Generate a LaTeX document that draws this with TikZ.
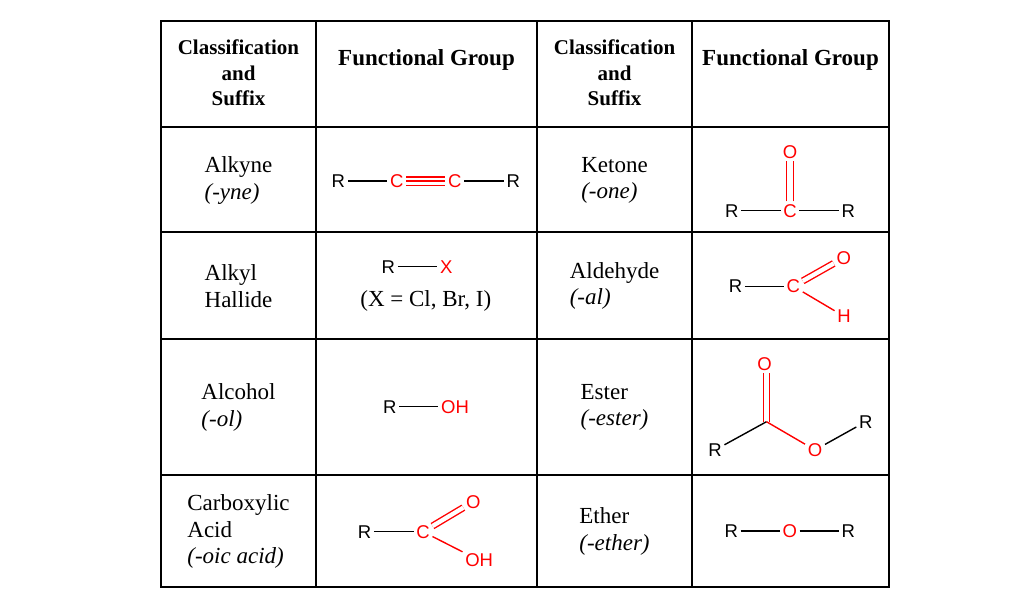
\documentclass[tikz,border=0pt]{standalone}
\usepackage{fontspec}
\setmainfont{Liberation Serif}
\newfontfamily\chemfont{Liberation Sans}
\begin{document}
\begin{tikzpicture}[x=1pt,y=-1pt,
  tableline/.style={line width=2pt},
  hdr/.style={font=\bfseries\fontsize{21}{25.5}\selectfont, align=center, inner sep=0},
  hdrfg/.style={font=\bfseries\fontsize{23}{26}\selectfont, inner sep=0},
  cls/.style={font=\fontsize{23}{26.5}\selectfont, align=left, inner sep=0},
  note/.style={font=\fontsize{23}{26.5}\selectfont, inner sep=0},
  atom/.style={font=\chemfont\fontsize{18.5}{21}\selectfont, inner sep=2.6pt},
  ratom/.style={atom, text=red},
  bond/.style={line width=1.4pt, draw=black},
  rbond/.style={line width=1.4pt, draw=red},
  rdbl/.style={draw=red, double=white, double distance=4.3pt, line width=1.4pt}
]
\useasboundingbox[fill=white] (0,0) rectangle (1024,604);
% table grid
\draw[tableline] (161,21) rectangle (889,587);
\draw[tableline] (316,21) -- (316,587);
\draw[tableline] (537,21) -- (537,587);
\draw[tableline] (692,21) -- (692,587);
\draw[tableline] (161,127) -- (889,127);
\draw[tableline] (161,232) -- (889,232);
\draw[tableline] (161,339) -- (889,339);
\draw[tableline] (161,475) -- (889,475);
% headers
\node[hdr] (h1) at (238.5,73) {Classification\\and\\Suffix};
\node[hdrfg] (h2) at (426.5,60) {Functional Group};
\node[hdr] (h3) at (614.5,73) {Classification\\and\\Suffix};
\node[hdrfg] (h4) at (790.5,60) {Functional Group};
% classification cells
\node[cls] (alkyne) at (238.5,180.5) {Alkyne\\\textit{(-yne)}};
\node[cls] (halide) at (238.5,286) {Alkyl\\Hallide};
\node[cls] (alcohol) at (238.5,407.5) {Alcohol\\\textit{(-ol)}};
\node[cls] (acid) at (238.5,531.5) {Carboxylic\\Acid\\\textit{(-oic acid)}};
\node[cls] (ketone) at (614.5,180.5) {Ketone\\\textit{(-one)}};
\node[cls] (aldehyde) at (614.5,286) {Aldehyde\\\textit{(-al)}};
\node[cls] (ester) at (614.5,407.5) {Ester\\\textit{(-ester)}};
\node[cls] (ether) at (614.5,531.5) {Ether\\\textit{(-ether)}};
% alkyne
\node[atom] (a1) at (338.3,181) {R};
\node[ratom] (a2) at (396.7,181) {C};
\node[ratom] (a3) at (454.7,181) {C};
\node[atom] (a4) at (513.3,181) {R};
\draw[bond] (a1) -- (a2);
\foreach \s in {-4.2,0,4.2}
  \draw[rbond] ([yshift=\s pt]a2.east) -- ([yshift=\s pt]a3.west);
\draw[bond] (a3) -- (a4);
% alkyl halide
\node[atom] (x1) at (388.3,266.7) {R};
\node[ratom] (x2) at (446.3,266.7) {X};
\draw[bond] (x1) -- (x2);
\node[note] (x3) at (425.8,300.8) {(X = Cl, Br, I)};
% alcohol
\node[atom] (o1) at (389.7,406.7) {R};
\node[ratom] (o2) at (455,406.7) {OH};
\draw[bond] (o1) -- (o2);
% carboxylic acid
\node[atom] (c1) at (364.5,531.7) {R};
\node[ratom] (c2) at (423,531.7) {C};
\node[ratom] (c3) at (473.3,501.7) {O};
\node[ratom] (c4) at (479.2,560.3) {OH};
\draw[bond] (c1) -- (c2);
\draw[rdbl] (c2) -- (c3);
\draw[rbond] (c2) -- (c4);
% ketone
\node[ratom] (k1) at (790,151.7) {O};
\node[ratom] (k2) at (790,210.7) {C};
\node[atom] (k3) at (731.7,210.7) {R};
\node[atom] (k4) at (848.3,210.7) {R};
\draw[rbond] ([xshift=-3.6pt]k2.north) -- ([xshift=-3.6pt]k1.south);
\draw[rbond] ([xshift=3.6pt]k2.north) -- ([xshift=3.6pt]k1.south);
\draw[bond] (k3) -- (k2);
\draw[bond] (k2) -- (k4);
% aldehyde
\node[atom] (d1) at (735.5,286.3) {R};
\node[ratom] (d2) at (793.3,286.3) {C};
\node[ratom] (d3) at (843.7,257.8) {O};
\node[ratom] (d4) at (844,316.3) {H};
\draw[bond] (d1) -- (d2);
\draw[rdbl] (d2) -- (d3);
\draw[rbond] (d2) -- (d4);
% ester
\node[ratom] (e1) at (764.5,364) {O};
\coordinate (ev) at (766.5,421.7);
\node[atom] (e2) at (715,450) {R};
\node[ratom] (e3) at (815,450) {O};
\node[atom] (e4) at (865.8,421.7) {R};
\draw[rbond] ([xshift=-3pt]ev) -- ([xshift=-3pt]ev |- e1.south);
\draw[rbond] ([xshift=3pt]ev) -- ([xshift=3pt]ev |- e1.south);
\draw[bond] (e2) -- (ev);
\draw[rbond] (ev) -- (e3);
\draw[bond] (e3) -- (e4);
% ether
\node[atom] (t1) at (731.2,530.8) {R};
\node[ratom] (t2) at (789.7,530.8) {O};
\node[atom] (t3) at (848.3,530.8) {R};
\draw[bond] (t1) -- (t2);
\draw[bond] (t2) -- (t3);
\end{tikzpicture}
\end{document}
